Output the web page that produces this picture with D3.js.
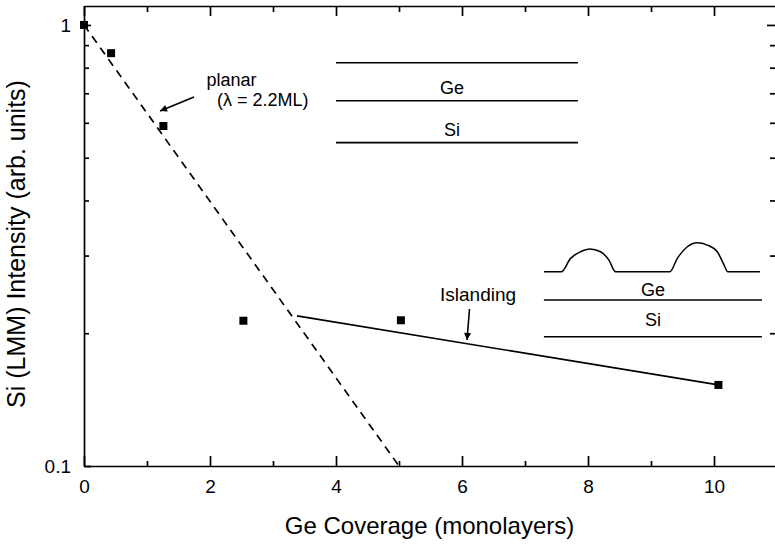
<!DOCTYPE html>
<html>
<head>
<meta charset="utf-8">
<script src="https://cdn.jsdelivr.net/npm/d3@7"></script>
<style>
  body { margin: 0; background: #fff; }
  svg { display: block; font-family: "Liberation Sans", Arial, sans-serif; }
  .axis path, .axis line { stroke: #000; stroke-width: 1.7; }
  .axis text { font-size: 19px; fill: #000; }
</style>
</head>
<body>
<div id="container"></div>
<script>
var WIDTH = 775;
var HEIGHT = 544;

// measured points: Ge coverage (ML) vs Si LMM intensity
const coverage = [0, 0.43, 1.26, 2.53, 5.03, 10.07];
const intensity = [1.0, 0.863, 0.59, 0.2135, 0.214, 0.1527];

// exponential fit for layer-by-layer growth (lambda = 2.2 ML)
const planarX = [0, 5.0];
const planarY = [1.0, 0.1];

// islanding regime
const islandX = [3.38, 10.07];
const islandY = [0.219, 0.1527];

// tick values
const xMajor = [0, 2, 4, 6, 8, 10];
const xMinor = [1, 3, 5, 7, 9];
const yMajor = [0.1, 1];
const yMinor = [0.2, 0.3, 0.4, 0.5, 0.6, 0.7, 0.8, 0.9];

// schematic insets (in data units)
const planarLayerX = [4.0, 7.84];
const planarLayerY = [0.821, 0.673, 0.541];
const islandLayerX = [7.3, 10.76];
const islandLayerY = [0.2378, 0.1964];
const layerNames = ['Ge', 'Si'];

const x = d3.scaleLinear().domain([0, 10.984]).range([84, 776]);
const y = d3.scaleLog().domain([0.1, 1.104]).range([466, 6]);

const svg = d3.select('#container')
  .append('svg')
    .attr('width', WIDTH)
    .attr('height', HEIGHT);

svg.append('rect').attr('width', WIDTH).attr('height', HEIGHT).attr('fill', '#fff');

const defs = svg.append('defs');
defs.append('marker')
    .attr('id', 'head')
    .attr('viewBox', '0 0 10 10')
    .attr('refX', 10).attr('refY', 5)
    .attr('markerWidth', 10).attr('markerHeight', 7)
    .attr('markerUnits', 'userSpaceOnUse')
    .attr('orient', 'auto')
  .append('path')
    .attr('d', 'M0,0 L10,5 L0,10 Z')
    .attr('fill', '#000');

// axes
const fmt = d => d === 1 ? '1' : '0.1';

svg.append('g').attr('class', 'axis')
   .attr('transform', `translate(0,${y.range()[0]})`)
   .call(d3.axisBottom(x).tickValues(xMajor).tickSize(-10).tickSizeOuter(0).tickPadding(13.5));
svg.append('g').attr('class', 'axis')
   .attr('transform', `translate(0,${y.range()[0]})`)
   .call(d3.axisBottom(x).tickValues(xMinor).tickSize(-5).tickSizeOuter(0).tickFormat(''))
   .select('.domain').remove();

svg.append('g').attr('class', 'axis')
   .attr('transform', `translate(0,${y.range()[1]})`)
   .call(d3.axisTop(x).tickValues(xMajor).tickSize(-10).tickSizeOuter(0).tickFormat(''));
svg.append('g').attr('class', 'axis')
   .attr('transform', `translate(0,${y.range()[1]})`)
   .call(d3.axisTop(x).tickValues(xMinor).tickSize(-6).tickSizeOuter(0).tickFormat(''))
   .select('.domain').remove();

svg.append('g').attr('class', 'axis')
   .attr('transform', `translate(${x.range()[0]},0)`)
   .call(d3.axisLeft(y).tickValues(yMajor).tickSize(-7).tickSizeOuter(0).tickPadding(13).tickFormat(fmt))
   .selectAll('text').attr('dy', '0.33em');
svg.append('g').attr('class', 'axis')
   .attr('transform', `translate(${x.range()[0]},0)`)
   .call(d3.axisLeft(y).tickValues(yMinor).tickSize(-5).tickSizeOuter(0).tickFormat(''))
   .select('.domain').remove();

svg.append('g').attr('class', 'axis')
   .attr('transform', `translate(${x.range()[1]},0)`)
   .call(d3.axisRight(y).tickValues([1]).tickSize(-9).tickSizeOuter(0).tickFormat(''));
svg.append('g').attr('class', 'axis')
   .attr('transform', `translate(${x.range()[1]},0)`)
   .call(d3.axisRight(y).tickValues(yMinor).tickSize(-6).tickSizeOuter(0).tickFormat(''))
   .select('.domain').remove();

// axis titles
svg.append('text')
   .attr('x', 429.5).attr('y', 534)
   .attr('text-anchor', 'middle')
   .style('font-size', '24px')
   .text('Ge Coverage (monolayers)');

svg.append('text')
   .attr('transform', 'translate(25,244) rotate(-90)')
   .attr('text-anchor', 'middle')
   .style('font-size', '25px')
   .text('Si (LMM) Intensity (arb. units)');

// fits
const line = d3.line().x(d => x(d[0])).y(d => y(d[1]));

svg.append('path')
   .datum(d3.zip(planarX, planarY))
   .attr('d', line)
   .attr('fill', 'none').attr('stroke', '#000')
   .attr('stroke-width', 1.7)
   .attr('stroke-dasharray', '8,6');

svg.append('path')
   .datum(d3.zip(islandX, islandY))
   .attr('d', line)
   .attr('fill', 'none').attr('stroke', '#000')
   .attr('stroke-width', 1.7);

// data points
svg.selectAll('.pt')
   .data(d3.zip(coverage, intensity))
   .enter()
   .append('rect')
   .attr('class', 'pt')
   .attr('x', d => x(d[0]) - 4)
   .attr('y', d => y(d[1]) - 4)
   .attr('width', 8).attr('height', 8)
   .attr('fill', '#000');

// annotations
svg.append('text').attr('x', 206.5).attr('y', 86)
   .style('font-size', '18px').text('planar');
svg.append('text').attr('x', 217).attr('y', 106)
   .style('font-size', '18px').text('(\u03bb = 2.2ML)');
svg.append('line')
   .attr('x1', 194).attr('y1', 97).attr('x2', 160).attr('y2', 111)
   .attr('stroke', '#000').attr('stroke-width', 1.6)
   .attr('marker-end', 'url(#head)');

svg.append('text').attr('x', 440).attr('y', 301)
   .style('font-size', '19px').text('Islanding');
svg.append('line')
   .attr('x1', 469.5).attr('y1', 309).attr('x2', 467).attr('y2', 340)
   .attr('stroke', '#000').attr('stroke-width', 1.6)
   .attr('marker-end', 'url(#head)');

// planar growth inset
const inset1 = svg.append('g');
inset1.selectAll('line')
   .data(planarLayerY)
   .enter()
   .append('line')
   .attr('x1', x(planarLayerX[0])).attr('x2', x(planarLayerX[1]))
   .attr('y1', d => y(d)).attr('y2', d => y(d))
   .attr('stroke', '#000').attr('stroke-width', 1.6);
inset1.selectAll('text')
   .data(layerNames)
   .enter()
   .append('text')
   .attr('x', (x(planarLayerX[0]) + x(planarLayerX[1])) / 2 - 5)
   .attr('y', (d, i) => y(planarLayerY[i + 1]) - 7)
   .attr('text-anchor', 'middle')
   .style('font-size', '18px')
   .text(d => d);

// islanding inset
const inset2 = svg.append('g');
inset2.selectAll('line')
   .data(islandLayerY)
   .enter()
   .append('line')
   .attr('x1', x(islandLayerX[0])).attr('x2', x(islandLayerX[1]))
   .attr('y1', d => y(d)).attr('y2', d => y(d))
   .attr('stroke', '#000').attr('stroke-width', 1.6);
inset2.selectAll('text')
   .data(layerNames)
   .enter()
   .append('text')
   .attr('x', (x(islandLayerX[0]) + x(islandLayerX[1])) / 2)
   .attr('y', (d, i) => i === 0 ? y(islandLayerY[0]) - 4 : y(islandLayerY[1]) - 11)
   .attr('text-anchor', 'middle')
   .style('font-size', '18px')
   .text(d => d);

// surface profile with two islands, offsets from the left end of the surface
const x0 = x(islandLayerX[0]);
const y0 = y(islandLayerY[0]) - 28.3;
const profile = [
  [0, 0], [17.4, 0],
  [26.7, -13.4], [36.7, -20], [46, -22.7], [56.7, -20], [65, -11.7], [71.7, 0],
  [126, 0],
  [133.4, -13.4], [143.4, -25], [153.4, -29], [163.4, -26.7], [173.4, -20], [179.4, -8.4], [184, 0],
  [216, 0]
];
inset2.append('path')
   .datum(profile)
   .attr('d', d3.line().x(d => x0 + d[0]).y(d => y0 + d[1]).curve(d3.curveMonotoneX))
   .attr('fill', 'none').attr('stroke', '#000').attr('stroke-width', 1.5);
</script>
</body>
</html>
